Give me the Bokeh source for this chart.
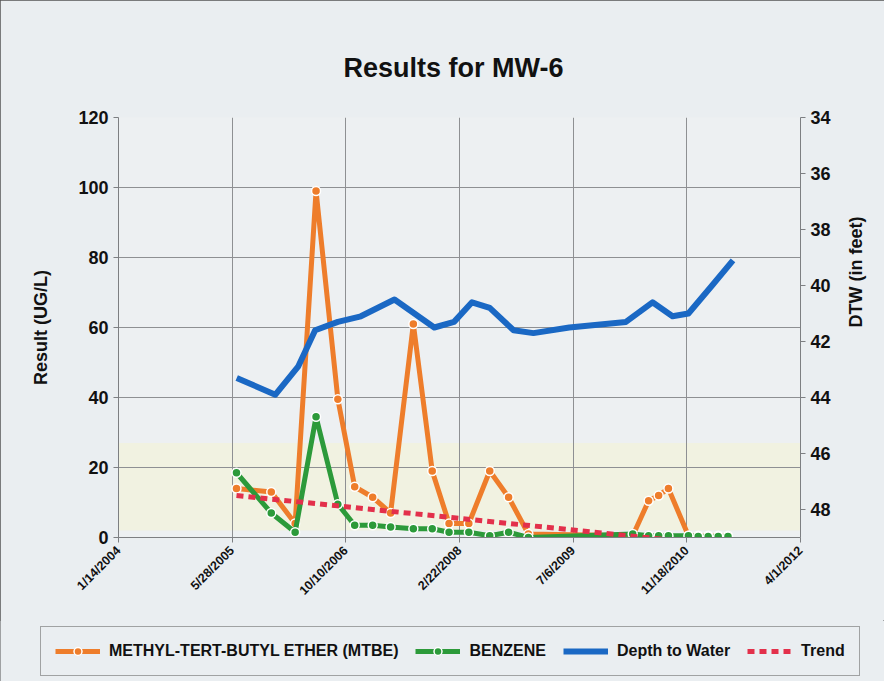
import math
import pandas as pd
from bokeh.plotting import figure
from bokeh.layouts import column
from bokeh.models import (Range1d, LinearAxis, FixedTicker, Legend, LegendItem,
                          BoxAnnotation)
from bokeh.embed import file_html
from bokeh.resources import INLINE

# ---------------- data ----------------
sample_dates = ["2005-06-16", "2005-11-16", "2006-03-01", "2006-06-01", "2006-09-05",
                "2006-11-18", "2007-02-05", "2007-04-25", "2007-08-03", "2007-10-25",
                "2008-01-07", "2008-04-03", "2008-07-04", "2008-09-25", "2008-12-21",
                "2010-03-25", "2010-06-03", "2010-07-17", "2010-08-29", "2010-11-25",
                "2011-01-07", "2011-02-20", "2011-04-05", "2011-05-18"]
mtbe = [14, 13, 4, 99, 39.5, 14.5, 11.5, 7, 61, 19,
        4, 4, 19, 11.5, 1, 0.5, 10.5, 12, 14, 0.5,
        0.5, 0.5, 0.5, 0.5]
benzene = [18.5, 7, 1.5, 34.5, 9.5, 3.5, 3.5, 3, 2.5, 2.5,
           1.5, 1.5, 0.5, 1.5, 0, 1, 0.5, 0.5, 0.5, 0.5,
           0.3, 0.3, 0.3, 0.3]

dtw_dates = ["2005-06-17", "2005-12-04", "2006-03-14", "2006-05-28", "2006-09-05",
             "2006-12-15", "2007-05-12", "2007-11-03", "2008-01-29", "2008-04-17",
             "2008-07-04", "2008-10-17", "2009-01-12", "2009-06-19", "2010-02-23",
             "2010-06-20", "2010-09-16", "2010-11-25", "2011-03-09", "2011-06-09"]
dtw_ft = [43.3, 43.9, 42.9, 41.6, 41.3, 41.1, 40.5, 41.5, 41.3, 40.6,
          40.8, 41.6, 41.7, 41.5, 41.3, 40.6, 41.1, 41.0, 40.0, 39.1]

trend_dates = ["2005-06-16", "2011-06-01"]
trend_vals = [12, -2.5]

series_names = ["METHYL-TERT-BUTYL ETHER (MTBE)", "BENZENE", "Depth to Water", "Trend"]
x_tick_labels = ["1/14/2004", "5/28/2005", "10/10/2006", "2/22/2008",
                 "7/6/2009", "11/18/2010", "4/1/2012"]
left_ticks = [0, 20, 40, 60, 80, 100, 120]
right_ticks = [34, 36, 38, 40, 42, 44, 46, 48]

# ---------------- helpers ----------------
EPOCH = pd.Timestamp("1899-12-30")


def serial(dates, fmt=None):
    return [int((pd.to_datetime(d, format=fmt) - EPOCH).days) for d in dates]


xs = serial(sample_dates)
xd = serial(dtw_dates)
xt = serial(trend_dates)
x_ticks = serial(x_tick_labels, "%m/%d/%Y")

FONT = "Liberation Sans"
ORANGE = "#EE7D2B"
GREEN = "#2C9A3A"
BLUE = "#1A68C4"
RED = "#E3304B"
BG = "#eaeef1"
GRID = "#8e9093"

W = 884
p = figure(width=W, height=620, output_backend="svg", toolbar_location=None,
           x_range=Range1d(x_ticks[0], x_ticks[-1]), y_range=Range1d(0, 120),
           min_border_left=118, min_border_right=84, min_border_top=117,
           min_border_bottom=83)
p.extra_y_ranges = {"dtw": Range1d(start=49, end=34)}

p.background_fill_color = "#edf0f2"
p.border_fill_color = BG
p.outline_line_color = None

# faint yellow wash near the bottom of the plot area (as on the scan)
p.add_layout(BoxAnnotation(bottom=2, top=27, fill_color="#f4f4d6", fill_alpha=0.6,
                           line_color=None, level="image"))

# title
p.title.text = "Results for MW-6"
p.title.align = "left"
p.title.offset = 225
p.title.text_font = FONT
p.title.text_font_size = "27px"
p.title.text_font_style = "bold"
p.title.text_color = "#111111"
p.title.standoff = 70

# grids
p.xgrid.ticker = FixedTicker(ticks=x_ticks)
p.ygrid.ticker = FixedTicker(ticks=left_ticks)
for g in (p.xgrid, p.ygrid):
    g.grid_line_color = GRID
    g.grid_line_width = 1

# left axis
ya = p.yaxis[0]
ya.ticker = FixedTicker(ticks=left_ticks)
ya.axis_label = "Result (UG/L)"
# bottom axis
xa = p.xaxis[0]
xa.ticker = FixedTicker(ticks=x_ticks)
xa.major_label_overrides = {t: lab for t, lab in zip(x_ticks, x_tick_labels)}
xa.major_label_orientation = math.pi / 4
xa.major_label_text_font_size = "12.5px"

# right axis
ra = LinearAxis(y_range_name="dtw", ticker=FixedTicker(ticks=right_ticks),
                axis_label="DTW (in feet)")
p.add_layout(ra, "right")
ra.axis_label_orientation = math.pi / 2

for ax in (ya, xa, ra):
    ax.axis_line_color = "#7d7f82"
    ax.major_tick_line_color = "#7d7f82"
    ax.minor_tick_line_color = None
    ax.major_tick_out = 5
    ax.major_tick_in = 0
    ax.major_label_text_font = FONT
    ax.major_label_text_font_style = "bold"
    ax.major_label_text_color = "#111111"
    ax.axis_label_text_font = FONT
    ax.axis_label_text_font_style = "bold"
    ax.axis_label_text_font_size = "18px"
    ax.axis_label_text_color = "#111111"
ya.major_label_text_font_size = "18px"
ra.major_label_text_font_size = "18px"
ya.axis_label_standoff = 24
ra.axis_label_standoff = 22
xa.major_label_standoff = 6


# series
def draw_series(fig, x, ym, yb, xdd, yd, xtt, yt):
    lm = fig.line(x, ym, line_color=ORANGE, line_width=5, line_join="round")
    cm = fig.scatter(x, ym, marker="circle", size=9, fill_color=ORANGE,
                     line_color="white", line_width=1.5)
    lb = fig.line(x, yb, line_color=GREEN, line_width=5, line_join="round")
    cb = fig.scatter(x, yb, marker="circle", size=9, fill_color=GREEN,
                     line_color="white", line_width=1.5)
    kw = {"y_range_name": "dtw"} if "dtw" in fig.extra_y_ranges else {}
    ld = fig.line(xdd, yd, line_color=BLUE, line_width=6, line_join="round", **kw)
    lt = fig.line(xtt, yt, line_color=RED, line_width=5, line_dash="7 5")
    return lm, cm, lb, cb, ld, lt


draw_series(p, xs, mtbe, benzene, xd, dtw_ft, xt, trend_vals)

# ---------------- legend strip (separate figure below the chart) ----------------
q = figure(width=W, height=61, output_backend="svg", toolbar_location=None,
           x_range=Range1d(0, 1), y_range=Range1d(0, 1),
           x_axis_type=None, y_axis_type=None, min_border=0)
q.frame_align = False
q.background_fill_color = BG
q.border_fill_color = BG
q.outline_line_color = None
# legend samples use off-screen points so only the legend glyphs show
lm, cm, lb, cb, ld, lt = draw_series(q, [-5], [-5], [-5], [-5], [-5], [-5, -4], [-5, -4])

legend = Legend(items=[
    LegendItem(label=series_names[0], renderers=[lm, cm]),
    LegendItem(label=series_names[1], renderers=[lb, cb]),
    LegendItem(label=series_names[2], renderers=[ld]),
    LegendItem(label=series_names[3], renderers=[lt]),
], orientation="horizontal", location=(40, 5))
legend.label_text_font = FONT
legend.label_text_font_style = "bold"
legend.label_text_font_size = "16px"
legend.label_text_color = "#111111"
legend.glyph_width = 45
legend.glyph_height = 20
legend.label_standoff = 9
legend.spacing = 17
legend.padding = 14
legend.margin = 0
legend.border_line_color = "#555555"
legend.border_line_width = 1
legend.background_fill_color = BG
legend.background_fill_alpha = 1
q.add_layout(legend)

layout = column(p, q, spacing=0,
                styles={"background-color": BG, "outline": "1px solid #555555",
                        "outline-offset": "-1px"})
open("out.html", "w").write(file_html(layout, INLINE))
